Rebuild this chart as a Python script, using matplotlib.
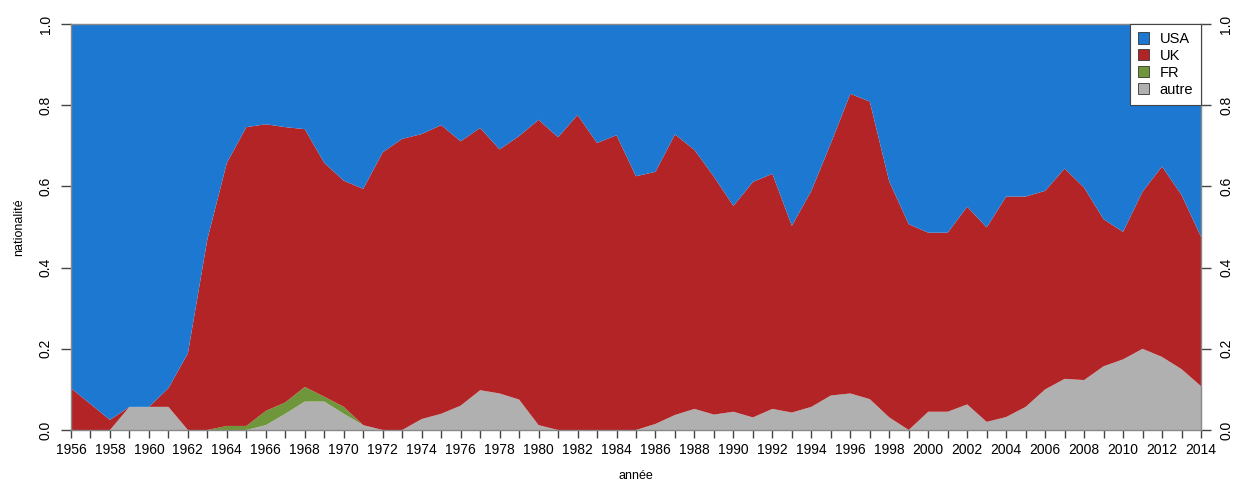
import matplotlib
matplotlib.use("Agg")
import matplotlib.pyplot as plt
from matplotlib.patches import Patch
import numpy as np

plt.rcParams['font.family'] = ['Liberation Sans', 'DejaVu Sans']

years = list(range(1956, 2015))

# share of each nationality per year
autre = [0, 0, 0, 0.057, 0.057, 0.057, 0, 0, 0, 0,
         0.012, 0.04, 0.07, 0.07, 0.04, 0.012, 0, 0, 0.027, 0.04,
         0.06, 0.098, 0.09, 0.075, 0.012, 0, 0, 0, 0, 0,
         0.015, 0.037, 0.052, 0.038, 0.045, 0.031, 0.052, 0.043, 0.057, 0.085,
         0.09, 0.076, 0.031, 0, 0.045, 0.045, 0.063, 0.02, 0.032, 0.057,
         0.1, 0.126, 0.123, 0.157, 0.174, 0.2, 0.18, 0.15, 0.108]
fr = [0, 0, 0, 0, 0, 0, 0, 0, 0.01, 0.01,
      0.035, 0.028, 0.036, 0.012, 0.017, 0, 0, 0, 0, 0,
      0, 0, 0, 0, 0, 0, 0, 0, 0, 0,
      0, 0, 0, 0, 0, 0, 0, 0, 0, 0,
      0, 0, 0, 0, 0, 0, 0, 0, 0, 0,
      0, 0, 0, 0, 0, 0, 0, 0, 0]
uk = [0.103, 0.064, 0.025, 0.0, 0.0, 0.046, 0.189, 0.47, 0.648, 0.736,
      0.706, 0.678, 0.635, 0.576, 0.557, 0.582, 0.684, 0.717, 0.702, 0.711,
      0.651, 0.646, 0.601, 0.649, 0.752, 0.721, 0.776, 0.707, 0.726, 0.625,
      0.621, 0.691, 0.638, 0.586, 0.507, 0.58, 0.579, 0.46, 0.532, 0.621,
      0.738, 0.733, 0.581, 0.507, 0.441, 0.441, 0.487, 0.479, 0.543, 0.518,
      0.489, 0.518, 0.474, 0.362, 0.314, 0.387, 0.469, 0.429, 0.368]
usa = [0.897, 0.936, 0.975, 0.943, 0.943, 0.897, 0.811, 0.53, 0.342, 0.254,
       0.247, 0.254, 0.259, 0.342, 0.386, 0.406, 0.316, 0.283, 0.271, 0.249,
       0.289, 0.256, 0.309, 0.276, 0.236, 0.279, 0.224, 0.293, 0.274, 0.375,
       0.364, 0.272, 0.31, 0.376, 0.448, 0.389, 0.369, 0.497, 0.411, 0.294,
       0.172, 0.191, 0.388, 0.493, 0.514, 0.514, 0.45, 0.501, 0.425, 0.425,
       0.411, 0.356, 0.403, 0.481, 0.512, 0.413, 0.351, 0.421, 0.524]

labels = ['USA', 'UK', 'FR', 'autre']
colors = {'USA': '#1c78d0', 'UK': '#b22426', 'FR': '#70963c', 'autre': '#b0b0b0'}

fig = plt.figure(figsize=(12.33, 4.82), dpi=100)
ax = fig.add_axes([71 / 1233, 1 - 430 / 482, 1130 / 1233, 406 / 482])

ax.stackplot(years, autre, fr, uk, usa,
             colors=[colors['autre'], colors['FR'], colors['UK'], colors['USA']],
             linewidth=0)

ax.set_xlim(1956, 2014)
ax.set_ylim(0, 1)

ax.set_xticks(years)
ax.set_xticklabels([str(y) if y % 2 == 0 else '' for y in years], fontsize=10)
yt = [0, 0.2, 0.4, 0.6, 0.8, 1.0]
ax.set_yticks(yt)
ax.set_yticklabels(['%.1f' % v for v in yt], fontsize=10)

ax.tick_params(axis='x', direction='out', length=6, width=1, color='#444444', pad=3)
ax.tick_params(axis='y', direction='out', length=7, width=1, color='#444444',
               right=True, labelright=True, pad=6)
for t in ax.yaxis.get_major_ticks():
    t.label1.set_rotation(90)
    t.label1.set_va('center')
    t.label1.set_ha('right')
    t.label2.set_rotation(90)
    t.label2.set_va('center')
    t.label2.set_ha('left')

for s in ax.spines.values():
    s.set_color('#888888')
    s.set_linewidth(1)

ax.set_xlabel('année', fontsize=9, labelpad=10)
ax.set_ylabel('nationalité', fontsize=9, labelpad=10)

handles = [Patch(facecolor=colors[k], edgecolor='#333333', linewidth=0.6) for k in labels]
leg = ax.legend(handles, labels, loc='upper right', fontsize=10.5, frameon=True,
                fancybox=False, framealpha=1, facecolor='white',
                handlelength=0.8, handleheight=0.8,
                handletextpad=0.7, labelspacing=0.2, borderpad=0.55,
                borderaxespad=0)
leg.get_frame().set_edgecolor('#444444')
leg.get_frame().set_linewidth(0.8)

fig.savefig('out.png', dpi=100)
